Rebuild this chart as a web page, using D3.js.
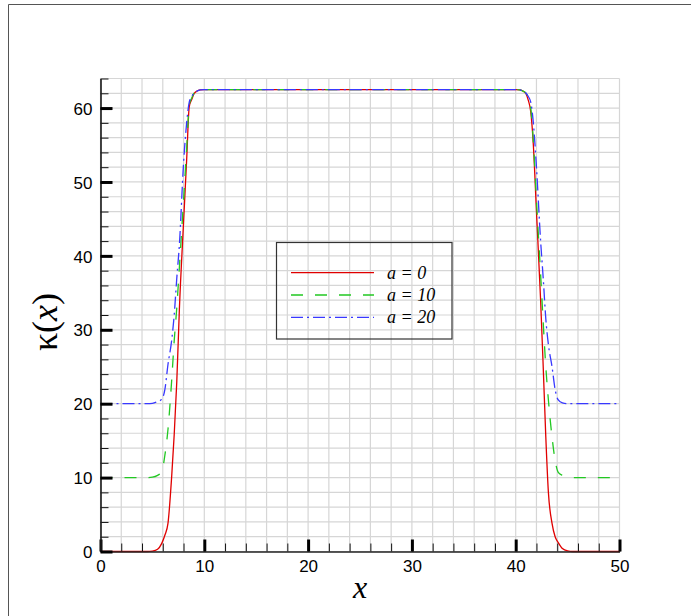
<!DOCTYPE html>
<html>
<head>
<meta charset="utf-8">
<script src="https://cdn.jsdelivr.net/npm/d3@7"></script>
<style>
    body { margin: 0; background: #fff; }
    svg { display: block; }
</style>
</head>
<body>
<svg></svg>
<script>
//Chart data
let xValues = [0, 4, 4.5, 5, 5.5, 5.9, 6.2, 6.5, 6.85, 7.1, 7.35, 7.6, 8, 8.3, 8.55, 8.8, 9, 9.3, 9.6, 10,
               40, 40.4, 40.7, 41, 41.2, 41.45, 41.7, 42, 42.4, 42.65, 42.9, 43.15, 43.5, 43.8, 44.1, 44.5, 45, 45.5, 46, 50];

let kappaA0 = [0, 0, 0, 0.05, 0.3, 1.1, 2.2, 3.8, 10, 15.8, 23, 32.8, 44.5, 53, 60.2, 61.2, 61.9, 62.3, 62.45, 62.5,
               62.5, 62.45, 62.3, 61.9, 61.1, 59.5, 55, 46, 34, 25, 15.5, 8, 3.8, 2.0, 1.2, 0.4, 0.08, 0, 0, 0];

let kappaA10 = [10, 10, 10, 10.05, 10.3, 10.8, 13, 16.5, 23, 28.5, 33, 38.5, 47.5, 54.5, 60.4, 61.4, 62, 62.3, 62.45, 62.5,
                62.5, 62.45, 62.3, 62, 61.4, 60, 55.5, 47.5, 37.5, 31, 25, 20.5, 15.5, 12.3, 10.7, 10.3, 10.05, 10, 10, 10];

let kappaA20 = [20, 20, 20, 20.05, 20.3, 20.6, 21.9, 25.3, 28.5, 32, 37, 41.5, 52.5, 58, 60.8, 61.6, 62, 62.3, 62.45, 62.5,
                62.5, 62.45, 62.3, 62, 61.6, 60.8, 58, 52, 42, 37, 31.5, 28, 25, 21.9, 20.5, 20.1, 20, 20, 20, 20];

let seriesNames = ['a = 0', 'a = 10', 'a = 20'];
let seriesColors = ['#e00000', '#22c822', '#3838ff'];
let seriesDash = ['none', '12,12', '12,4,2,4'];

let xDomain = [0, 50];
let yDomain = [0, 64];
let majorStep = 10;
let minorStep = 2;

//Scales
let xScale;
let yScale;

//Canvas Dimension
let canvasDimension = {
    width: 691,
    height: 616,
};

//Plot area in pixels
let plot = {
    left: 100.5,
    right: 619.5,
    top: 78.5,
    bottom: 551.5,
};

let svg = d3.select('svg');

//Drawing Canvas
function drawCanvas(){

    svg.attr('width', canvasDimension.width);
    svg.attr('height', canvasDimension.height);

    //outer frame (top and left only)
    svg.append('path')
       .attr('d', 'M8.5,616 L8.5,4.5 L691,4.5')
       .attr('fill', 'none')
       .attr('stroke', '#555')
       .attr('stroke-width', 1);
}

//Generate Scale
function generateScale(){

    xScale = d3.scaleLinear()
               .domain(xDomain)
               .range([plot.left, plot.right]);

    yScale = d3.scaleLinear()
               .domain(yDomain)
               .range([plot.bottom, plot.top]);
}

//Grid lines every minor step
function drawGrid(){

    let grid = svg.append('g').attr('class', 'grid');

    grid.selectAll('line.gx')
        .data(d3.range(xDomain[0], xDomain[1] + 0.001, minorStep))
        .enter()
        .append('line')
        .attr('x1', (d) => xScale(d))
        .attr('x2', (d) => xScale(d))
        .attr('y1', plot.top)
        .attr('y2', plot.bottom)
        .attr('stroke', '#d6d6d6')
        .attr('stroke-width', 1.2);

    grid.selectAll('line.gy')
        .data(d3.range(yDomain[0], yDomain[1] + 0.001, minorStep))
        .enter()
        .append('line')
        .attr('x1', plot.left)
        .attr('x2', plot.right)
        .attr('y1', (d) => yScale(d))
        .attr('y2', (d) => yScale(d))
        .attr('stroke', '#d6d6d6')
        .attr('stroke-width', 1.2);
}

//Draw the three curves
function drawGraph(){

    let allSeries = [kappaA0, kappaA10, kappaA20];

    let line = d3.line()
                 .x((d, i) => xScale(xValues[i]))
                 .y((d) => yScale(d))
                 .curve(d3.curveMonotoneX);

    svg.append('g')
       .selectAll('path')
       .data(allSeries)
       .enter()
       .append('path')
       .attr('d', (d) => line(d))
       .attr('fill', 'none')
       .attr('stroke', (d, i) => seriesColors[i])
       .attr('stroke-dasharray', (d, i) => seriesDash[i])
       .attr('stroke-width', 1.3);
}

//Generate Axis (ticks point inward, drawn over the curves)
function generateAxis(){

    //minor ticks
    let xMinor = d3.axisBottom(xScale)
                   .tickValues(d3.range(xDomain[0], xDomain[1] + 0.001, minorStep))
                   .tickSize(-8)
                   .tickSizeOuter(0)
                   .tickFormat('');
    let yMinor = d3.axisLeft(yScale)
                   .tickValues(d3.range(yDomain[0], yDomain[1] + 0.001, minorStep))
                   .tickSize(-8)
                   .tickSizeOuter(0)
                   .tickFormat('');

    //major ticks with labels
    let xMajor = d3.axisBottom(xScale)
                   .tickValues(d3.range(xDomain[0], xDomain[1] + 0.001, majorStep))
                   .tickSize(-12)
                   .tickSizeOuter(0)
                   .tickPadding(8)
                   .tickFormat(d3.format('d'));
    let yMajor = d3.axisLeft(yScale)
                   .tickValues(d3.range(yDomain[0], yDomain[1] - 1, majorStep))
                   .tickSize(-12)
                   .tickSizeOuter(0)
                   .tickPadding(8)
                   .tickFormat(d3.format('d'));

    svg.append('g')
       .attr('id', 'x-minor')
       .attr('transform', 'translate(0, ' + plot.bottom + ')')
       .call(xMinor);
    svg.append('g')
       .attr('id', 'y-minor')
       .attr('transform', 'translate(' + plot.left + ', 0)')
       .call(yMinor);

    let gx = svg.append('g')
       .attr('id', 'x-axis')
       .attr('transform', 'translate(0, ' + plot.bottom + ')')
       .call(xMajor);
    let gy = svg.append('g')
       .attr('id', 'y-axis')
       .attr('transform', 'translate(' + plot.left + ', 0)')
       .call(yMajor);

    svg.selectAll('#x-minor line, #y-minor line').attr('stroke', '#111').attr('stroke-width', 1);
    gx.selectAll('.tick line').attr('stroke', '#000').attr('stroke-width', 3);
    gy.selectAll('.tick line').attr('stroke', '#000').attr('stroke-width', 3);
    svg.selectAll('.domain').attr('stroke', '#222').attr('stroke-width', 1.2);

    //tick label font
    svg.selectAll('#x-axis .tick text, #y-axis .tick text')
       .attr('font-family', "'Liberation Sans', Arial, sans-serif")
       .attr('font-size', 17)
       .attr('fill', '#000');
    gy.selectAll('.tick text').attr('dy', '0.36em');
}

//Axis titles
function drawTitles(){

    svg.append('text')
       .attr('x', 360)
       .attr('y', 598)
       .attr('text-anchor', 'middle')
       .style('font-family', "'Liberation Serif', 'Times New Roman', serif")
       .style('font-style', 'italic')
       .style('font-size', '32px')
       .text('x');

    let yTitle = svg.append('text')
       .attr('transform', 'translate(57, 322) rotate(-90)')
       .attr('text-anchor', 'middle')
       .style('font-family', "'Liberation Serif', 'Times New Roman', serif")
       .style('font-size', '36px');
    yTitle.append('tspan').text('κ(');
    yTitle.append('tspan').style('font-style', 'italic').text('x');
    yTitle.append('tspan').text(')');
}

//Legend box
function drawLegend(){

    let legend = svg.append('g').attr('class', 'legend');

    legend.append('rect')
          .attr('x', 276.5)
          .attr('y', 242.5)
          .attr('width', 175.5)
          .attr('height', 96.5)
          .attr('fill', 'none')
          .attr('stroke', '#333')
          .attr('stroke-width', 1.2);

    let rows = legend.selectAll('g.row')
                     .data(seriesNames)
                     .enter()
                     .append('g')
                     .attr('transform', (d, i) => 'translate(0, ' + (272.7 + i * 22.3) + ')');

    rows.append('line')
        .attr('x1', 291)
        .attr('x2', 374)
        .attr('stroke', (d, i) => seriesColors[i])
        .attr('stroke-dasharray', (d, i) => seriesDash[i])
        .attr('stroke-width', 1.3);

    rows.append('text')
        .attr('x', 387)
        .attr('y', 6)
        .style('font-family', "'Liberation Serif', 'Times New Roman', serif")
        .style('font-style', 'italic')
        .style('font-size', '18px')
        .text((d) => d);
}

//Main
drawCanvas();
generateScale();
drawGrid();
drawGraph();
generateAxis();
drawTitles();
drawLegend();
</script>
</body>
</html>
